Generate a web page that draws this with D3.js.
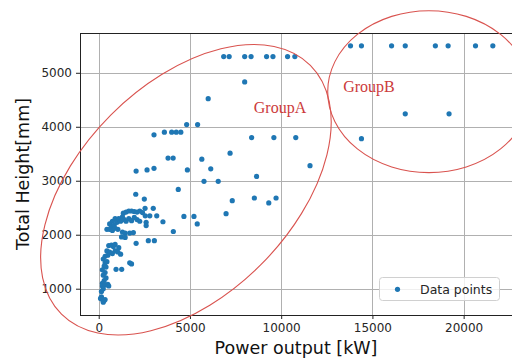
<!DOCTYPE html>
<html><head><meta charset="utf-8">
<script src="https://cdn.jsdelivr.net/npm/d3@7/dist/d3.min.js"></script>
<style>html,body{margin:0;padding:0;background:#fff;}svg{display:block;}</style>
</head><body>
<svg id="chart" width="512" height="360"></svg>
<script>
// ---- data ----
const xTicks = [0, 5000, 10000, 15000, 20000];
const yTicks = [1000, 2000, 3000, 4000, 5000];
const xLabel = "Power output [kW]";
const yLabel = "Total Height[mm]";
const legendLabel = "Data points";
const groupNames = ["GroupA", "GroupB"];

const groupBPoints = [
  [13800,5500],[14400,5500],[16050,5500],[16800,5500],[18450,5500],[19150,5500],[20650,5500],[21600,5500],
  [16800,4240],[19200,4240],[14400,3780]
];
const groupAScattered = [
  [6850,5300],[7150,5300],[8000,5300],[8350,5300],[9200,5300],[9550,5300],[10350,5300],[10750,5300],
  [8000,4830],[6000,4520],[4820,4040],[5420,4040],
  [3030,3850],[3600,3900],[4000,3900],[4250,3900],[4500,3900],
  [8380,3800],[9600,3800],[10800,3800],
  [3800,3420],[4080,3420],[5650,3400],[7200,3510],[6140,3220],[11580,3280],
  [2050,3180],[2650,3200],[3030,3230],[4860,3200],
  [5770,2990],[6550,2990],[8650,3080],[4360,2840],
  [7320,2630],[8530,2680],[9320,2590],[9720,2680],
  [5220,2340],[5400,2200],[6980,2390],[4670,2340],[4090,2060],
  [2030,2750],[2500,2660],[2540,2490],[2990,2490],
  [3180,2350],[3520,2240],[2600,2230],[2600,2170],
  [2050,1840],[2720,1890],[3050,1890],
  [1800,1460],[1700,1480],[950,1360],[1260,1360]
];
const groupACluster = [
  [1350,2400],[1500,2420],[1650,2440],[1800,2440],[1950,2430],[2100,2420],[2250,2440],[2400,2410],
  [2550,2350],[2800,2350],
  [600,2200],[750,2250],[900,2300],[1000,2230],[1100,2300],[1200,2250],[1300,2330],[1400,2280],
  [1500,2250],[1650,2300],[1800,2260],[1950,2320],[2100,2280],[2250,2250],[700,2150],[850,2180],
  [450,2100],[600,2100],[750,2080],[900,2120],[1050,2100],[1300,2050],
  [1450,2030],[1700,2030],[1900,2040],[1250,1960],[1450,1950],
  [550,1800],[700,1810],[800,1780],[900,1820],[1100,1760],
  [450,1700],[600,1680],[750,1650],[900,1700],[1050,1680],[1200,1640],[500,1620],[350,1600],
  [250,1550],[350,1480],[300,1420],[450,1500],[400,1400],[200,1350],[350,1300],[250,1250],
  [400,1200],[300,1150],[200,1100],
  [200,1050],[350,1070],[500,1080],[550,1050],[250,1000],[150,950],
  [150,850],[200,800],[300,780],[250,750],[100,820],[350,800]
];
const allPoints = groupBPoints.concat(groupAScattered, groupACluster);

// ---- layout ----
const W = 512, H = 360;
const plot = {left: 80, right: 512, top: 33, bottom: 315};
const svg = d3.select("#chart");

const x = d3.scaleLinear().domain([-1025, 22650]).range([plot.left, plot.right]);
const y = d3.scaleLinear().domain([513, 5737]).range([plot.bottom, plot.top]);

const font = "'DejaVu Sans', sans-serif";

// grid
const g = svg.append("g");
g.selectAll(".vg").data(xTicks).join("line")
  .attr("x1", d => Math.round(x(d)) + 0.5).attr("x2", d => Math.round(x(d)) + 0.5)
  .attr("y1", plot.top).attr("y2", plot.bottom)
  .attr("stroke", "#b0b0b0").attr("stroke-width", 1);
g.selectAll(".hg").data(yTicks).join("line")
  .attr("y1", d => Math.round(y(d)) + 0.5).attr("y2", d => Math.round(y(d)) + 0.5)
  .attr("x1", plot.left).attr("x2", plot.right)
  .attr("stroke", "#b0b0b0").attr("stroke-width", 1);

// axes
const xAxis = d3.axisBottom(x).tickValues(xTicks).tickSize(4).tickPadding(4).tickFormat(d3.format("d"));
const yAxis = d3.axisLeft(y).tickValues(yTicks).tickSize(4).tickPadding(4).tickFormat(d3.format("d"));
const gx = svg.append("g").attr("transform", `translate(0,${plot.bottom})`).call(xAxis);
const gy = svg.append("g").attr("transform", `translate(${plot.left},0)`).call(yAxis);
[gx, gy].forEach(a => {
  a.select(".domain").remove();
  a.selectAll(".tick line").attr("stroke", "#222");
  a.selectAll(".tick text").attr("fill", "#262626").style("font-family", font).style("font-size", "12px");
});

// frame
svg.append("rect").attr("x", plot.left + 0.5).attr("y", plot.top + 0.5)
  .attr("width", plot.right - plot.left).attr("height", plot.bottom - plot.top)
  .attr("fill", "none").attr("stroke", "#222").attr("stroke-width", 1);

// points
svg.append("g").selectAll("circle").data(allPoints).join("circle")
  .attr("cx", d => x(d[0])).attr("cy", d => y(d[1])).attr("r", 2.6)
  .attr("fill", "#1f77b4");

// ellipses (annotations)
const ellStroke = "#d9534f";
// Group A: centre in data units, rotated ellipse in screen space
const eA = {cx: 4780, cy: 2833, a: 176, b: 106, angle: -45};
svg.append("ellipse")
  .attr("transform", `translate(${x(eA.cx)},${y(eA.cy)}) rotate(${eA.angle})`)
  .attr("rx", eA.a).attr("ry", eA.b)
  .attr("fill", "none").attr("stroke", ellStroke).attr("stroke-width", 1.1);
// Group B: axis-aligned ellipse in data units
const eB = {cx: 18100, cy: 4650, w: 11100, h: 3000};
svg.append("ellipse")
  .attr("cx", x(eB.cx)).attr("cy", y(eB.cy))
  .attr("rx", x(eB.cx + eB.w / 2) - x(eB.cx)).attr("ry", y(eB.cy) - y(eB.cy + eB.h / 2))
  .attr("fill", "none").attr("stroke", ellStroke).attr("stroke-width", 1.1);

const labelPos = [[8500, 4250], [13400, 4650]];
svg.selectAll(".glabel").data(groupNames).join("text")
  .attr("x", (d, i) => x(labelPos[i][0])).attr("y", (d, i) => y(labelPos[i][1]))
  .attr("fill", "#cc3b3b").style("font-family", "'Liberation Serif', 'Times New Roman', serif")
  .style("font-size", "16px").text(d => d);

// axis labels
svg.append("text").attr("x", (plot.left + plot.right) / 2).attr("y", 354)
  .attr("text-anchor", "middle").style("font-family", font).style("font-size", "17.5px")
  .attr("fill", "#111").text(xLabel);
svg.append("text").attr("transform", `translate(29,${(plot.top + plot.bottom) / 2}) rotate(-90)`)
  .attr("text-anchor", "middle").style("font-family", font).style("font-size", "17.5px")
  .attr("fill", "#111").text(yLabel);

// legend
const lg = svg.append("g");
lg.append("rect").attr("x", 379.5).attr("y", 277.5).attr("width", 120).attr("height", 23).attr("rx", 3)
  .attr("fill", "#fff").attr("fill-opacity", 0.8).attr("stroke", "#d0d0d0");
lg.append("circle").attr("cx", 397.5).attr("cy", 289.3).attr("r", 2.6).attr("fill", "#1f77b4");
lg.append("text").attr("x", 420).attr("y", 294).style("font-family", font).style("font-size", "12.5px")
  .attr("fill", "#262626").text(legendLabel);
</script>
</body></html>
